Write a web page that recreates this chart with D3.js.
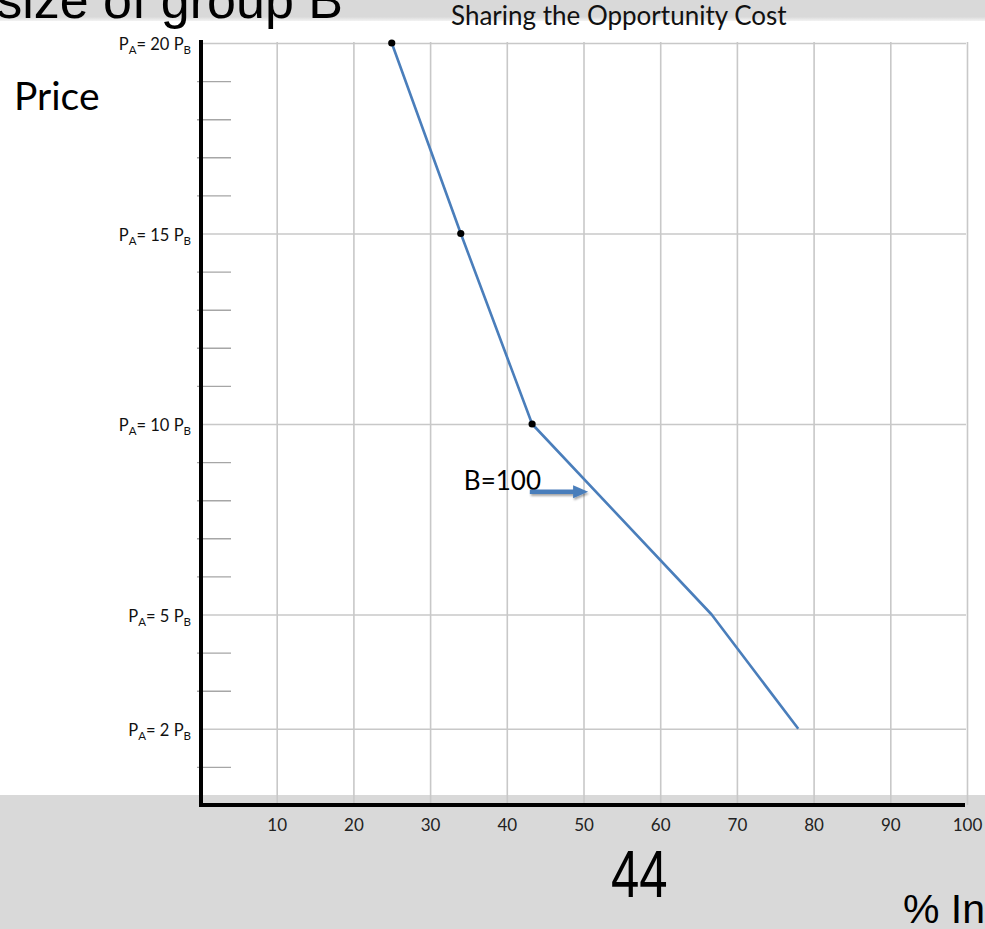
<!DOCTYPE html>
<html>
<head>
<meta charset="utf-8">
<script src="https://cdn.jsdelivr.net/npm/d3@7"></script>
<style>
  html, body { margin: 0; padding: 0; background: #ffffff; }
  svg { display: block; }
</style>
</head>
<body>
<svg id="chart" width="985" height="929"></svg>
<script>
// Opportunity-cost curve: share of income (%) against the price ratio P_A / P_B
const pctShare   = [25, 34, 43.3, 66.7, 78];
const priceRatio = [20, 15, 10, 5, 2];
const dottedCount = 3;                        // first three points carry a marker

const xTickValues = [10, 20, 30, 40, 50, 60, 70, 80, 90, 100];
const yMajorRatios = [20, 15, 10, 5, 2];
const yMinorRatios = [1, 3, 4, 6, 7, 8, 9, 11, 12, 13, 14, 16, 17, 18, 19];

// annotation: label and arrow pointing at the curve (data units)
const annotationText = "B=100";
const annotationPos  = [34.4, 8.27];
const arrowFrom = [43.0, 8.22];
const arrowTo   = [50.6, 8.22];

const svg = d3.select("#chart");
const W = 985, H = 929;

const x = d3.scaleLinear().domain([0, 100]).range([200, 967]);
const y = d3.scaleLinear().domain([0, 20]).range([805, 43]);

const defs = svg.append("defs");
const fadeTop = defs.append("linearGradient").attr("id", "fadeTop")
  .attr("x1", 0).attr("y1", 0).attr("x2", 0).attr("y2", 1);
fadeTop.append("stop").attr("offset", "0%").attr("stop-color", "#d9d9d9");
fadeTop.append("stop").attr("offset", "80%").attr("stop-color", "#d9d9d9");
fadeTop.append("stop").attr("offset", "100%").attr("stop-color", "#f3f3f3");
const shadow = defs.append("filter").attr("id", "arrowShadow")
  .attr("x", "-20%").attr("y", "-50%").attr("width", "140%").attr("height", "200%");
shadow.append("feDropShadow").attr("dx", 1).attr("dy", 2).attr("stdDeviation", 1.2)
  .attr("flood-color", "#000").attr("flood-opacity", 0.35);

// slide background bands
svg.append("rect").attr("x", 0).attr("y", 0).attr("width", W).attr("height", H).attr("fill", "#ffffff");
svg.append("rect").attr("x", 0).attr("y", 0).attr("width", W).attr("height", 21).attr("fill", "url(#fadeTop)");
svg.append("rect").attr("x", 0).attr("y", 795).attr("width", W).attr("height", H - 795).attr("fill", "#d9d9d9");

// large slide heading, partly off-canvas
svg.append("text")
  .attr("x", 343).attr("y", 18)
  .attr("text-anchor", "end")
  .attr("font-family", "'Liberation Sans', Arial, sans-serif")
  .attr("font-size", 52)
  .attr("fill", "#000")
  .text("size of group B");

// vertical axis caption
svg.append("text")
  .attr("x", 14).attr("y", 110)
  .attr("font-family", "Lato, 'Open Sans', sans-serif")
  .attr("font-size", 39)
  .attr("fill", "#000")
  .text("Price");

// chart title
svg.append("text")
  .attr("x", 451).attr("y", 25)
  .attr("font-family", "Lato, 'Open Sans', sans-serif")
  .attr("font-size", 26)
  .attr("fill", "#111")
  .text("Sharing the Opportunity Cost");

// vertical gridlines
svg.append("g")
  .attr("transform", `translate(0,${y(0)})`)
  .call(d3.axisBottom(x).tickValues(xTickValues).tickSize(-(y(0) - 42)).tickFormat(""))
  .call(g => g.select(".domain").remove())
  .call(g => g.selectAll(".tick line").attr("stroke", "#c8c8c8").attr("stroke-width", 1.6));

// horizontal gridlines at the labelled ratios
svg.append("g")
  .attr("transform", `translate(${x(0)},0)`)
  .call(d3.axisRight(y).tickValues(yMajorRatios).tickSize(x(100) - x(0) - 1).tickFormat(""))
  .call(g => g.select(".domain").remove())
  .call(g => g.selectAll(".tick line").attr("stroke", "#c8c8c8").attr("stroke-width", 1.6));

// short minor tick marks on the price axis
svg.append("g")
  .attr("transform", `translate(${x(0) - 3},0)`)
  .call(d3.axisRight(y).tickValues(yMinorRatios).tickSize(34).tickFormat(""))
  .call(g => g.select(".domain").remove())
  .call(g => g.selectAll(".tick line").attr("stroke", "#a6a6a6").attr("stroke-width", 1.4));

// price-ratio labels with subscripts
const yLab = svg.append("g")
  .attr("font-family", "Lato, 'Open Sans', sans-serif")
  .attr("font-size", 16.5)
  .attr("fill", "#111");
yMajorRatios.forEach(r => {
  const t = yLab.append("text")
    .attr("x", 191).attr("y", y(r) + 7)
    .attr("text-anchor", "end");
  t.append("tspan").text("P");
  t.append("tspan").attr("font-size", 11.5).attr("dy", 4).text("A");
  t.append("tspan").attr("dy", -4).text(`= ${r} P`);
  t.append("tspan").attr("font-size", 11.5).attr("dy", 4).text("B");
});

// x tick labels
svg.append("g")
  .attr("transform", `translate(0,${y(0)})`)
  .call(d3.axisBottom(x).tickValues(xTickValues).tickSize(0).tickPadding(14))
  .call(g => g.select(".domain").remove())
  .call(g => g.selectAll(".tick text")
    .attr("font-family", "Lato, 'Open Sans', sans-serif")
    .attr("font-size", 17)
    .attr("fill", "#222"));

// axis lines
svg.append("line")
  .attr("x1", x(0) + 1).attr("x2", x(0) + 1)
  .attr("y1", 40).attr("y2", y(0) + 2)
  .attr("stroke", "#000").attr("stroke-width", 4);
svg.append("line")
  .attr("x1", x(0) - 1).attr("x2", 965)
  .attr("y1", y(0)).attr("y2", y(0))
  .attr("stroke", "#000").attr("stroke-width", 4);

// the curve
const pts = pctShare.map((v, i) => [v, priceRatio[i]]);
const line = d3.line().x(d => x(d[0])).y(d => y(d[1]));
svg.append("path")
  .datum(pts)
  .attr("d", line)
  .attr("fill", "none")
  .attr("stroke", "#4a7ebb")
  .attr("stroke-width", 2.6)
  .attr("stroke-linejoin", "round");

svg.append("g").selectAll("circle")
  .data(pts.slice(0, dottedCount))
  .join("circle")
  .attr("cx", d => x(d[0]))
  .attr("cy", d => y(d[1]))
  .attr("r", 3.6)
  .attr("fill", "#000");

// annotation
svg.append("text")
  .attr("x", x(annotationPos[0])).attr("y", y(annotationPos[1]))
  .attr("font-family", "Lato, 'Open Sans', sans-serif")
  .attr("font-size", 26)
  .attr("fill", "#000")
  .text(annotationText);

const ax0 = x(arrowFrom[0]), ax1 = x(arrowTo[0]), ay = y(arrowFrom[1]);
const headLen = 15, shaftHalf = 2.2, headHalf = 6.5;
svg.append("path")
  .attr("d", `M${ax0},${ay - shaftHalf} L${ax1 - headLen},${ay - shaftHalf} L${ax1 - headLen},${ay - headHalf}
              L${ax1},${ay} L${ax1 - headLen},${ay + headHalf} L${ax1 - headLen},${ay + shaftHalf}
              L${ax0},${ay + shaftHalf} Z`)
  .attr("fill", "#4a7ebb")
  .attr("filter", "url(#arrowShadow)");

// slide number and the cut-off horizontal axis caption
svg.append("text")
  .attr("transform", "translate(611,897) scale(0.77,1)")
  .attr("font-family", "'Liberation Sans', Arial, sans-serif")
  .attr("font-size", 66)
  .attr("fill", "#000")
  .text("44");

svg.append("text")
  .attr("x", 903).attr("y", 923)
  .attr("font-family", "'Liberation Sans', Arial, sans-serif")
  .attr("font-size", 41)
  .attr("fill", "#000")
  .text("% Income");
</script>
</body>
</html>
